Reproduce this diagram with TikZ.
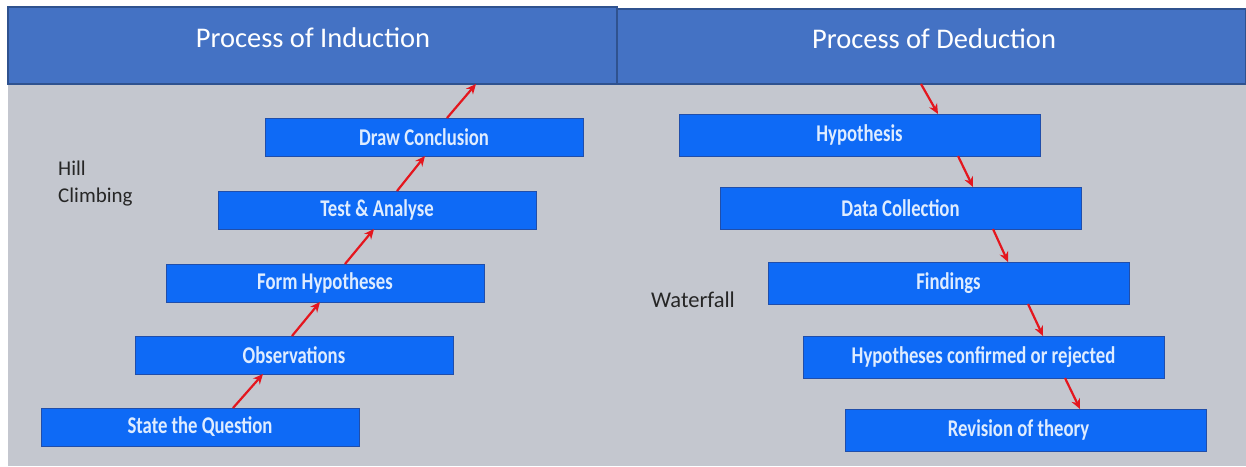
\documentclass[tikz,border=0pt]{standalone}
\usepackage{fontspec}
\setmainfont{Carlito}
\newfontfamily\stepfont[FakeStretch=0.78]{Carlito}
\usetikzlibrary{arrows.meta}
\definecolor{hdrfill}{RGB}{68,114,196}
\definecolor{hdrline}{RGB}{47,82,143}
\definecolor{panel}{RGB}{196,199,207}
\definecolor{stepfill}{RGB}{14,106,246}
\definecolor{stepline}{RGB}{32,78,170}
\definecolor{steptext}{RGB}{222,236,255}
\definecolor{arrowred}{RGB}{228,22,30}
\tikzset{
  header/.style={draw=hdrline, line width=1.5pt, fill=hdrfill, anchor=north west,
    inner sep=0pt, outer sep=0pt},
  headtext/.style={text=white, font=\fontsize{28.5}{30}\selectfont},
  stepbox/.style={draw=stepline, line width=1pt, fill=stepfill, anchor=north west,
    inner sep=0pt, outer sep=0pt, text=steptext,
    font=\stepfont\bfseries\fontsize{24}{26}\selectfont},
  leftstep/.style={stepbox, minimum width=318pt, minimum height=38pt},
  rightstep/.style={stepbox, minimum width=361pt, minimum height=42pt},
  flow/.style={draw=arrowred, line width=2.2pt, -{Stealth[length=10pt,width=9pt]}},
  side/.style={text=black!85, font=\fontsize{21}{27}\selectfont, align=left,
    anchor=north west, inner sep=0pt}
}
\begin{document}
\begin{tikzpicture}[x=1pt,y=-1pt]
  \useasboundingbox (0,0) rectangle (1246,466);
  \fill[white] (0,0) rectangle (1246,466);
  % grey slide area
  \fill[panel] (8,84) rectangle (1246,466);

  % headers
  \node[header, minimum width=609pt, minimum height=77pt] (hL) at (8,7) {};
  \node[headtext] (hLt) at (313,38) {Process of Induction};
  \node[header, minimum width=629pt, minimum height=75pt] (hR) at (617,9) {};
  \node[headtext] (hRt) at (934,39) {Process of Deduction};

  % side labels
  \node[side] (hill) at (58,161) {Hill\\Climbing};
  \node[side, font=\fontsize{22.5}{26}\selectfont] (wf) at (651,292) {Waterfall};

  % induction: climbing steps
  \node[leftstep] (s1) at (41,408)  {State the Question};
  \node[leftstep] (s2) at (135,336) {Observations};
  \node[leftstep] (s3) at (166,264) {Form Hypotheses};
  \node[leftstep] (s4) at (218,191) {Test \& Analyse};
  \node[leftstep] (s5) at (265,118) {Draw Conclusion};

  \draw[flow] ([xshift=192pt]s1.north west) -- ([xshift=128pt]s2.south west);
  \draw[flow] ([xshift=157pt]s2.north west) -- ([xshift=154pt]s3.south west);
  \draw[flow] ([xshift=179pt]s3.north west) -- ([xshift=156pt]s4.south west);
  \draw[flow] ([xshift=179pt]s4.north west) -- ([xshift=160pt]s5.south west);
  \draw[flow] ([xshift=182pt]s5.north west) -- ([xshift=468pt]hL.south west);

  % deduction: falling steps
  \node[rightstep] (d1) at (679,114) {Hypothesis};
  \node[rightstep] (d2) at (720,187) {Data Collection};
  \node[rightstep] (d3) at (768,262) {Findings};
  \node[rightstep] (d4) at (803,336) {Hypotheses confirmed or rejected};
  \node[rightstep] (d5) at (845,409) {\hspace*{-14pt}Revision of theory};

  \draw[flow] ([xshift=304pt]hR.south west) -- ([xshift=259pt]d1.north west);
  \draw[flow] ([xshift=279pt]d1.south west) -- ([xshift=253pt]d2.north west);
  \draw[flow] ([xshift=273pt]d2.south west) -- ([xshift=240pt]d3.north west);
  \draw[flow] ([xshift=260pt]d3.south west) -- ([xshift=240pt]d4.north west);
  \draw[flow] ([xshift=262pt]d4.south west) -- ([xshift=235pt]d5.north west);
\end{tikzpicture}
\end{document}
